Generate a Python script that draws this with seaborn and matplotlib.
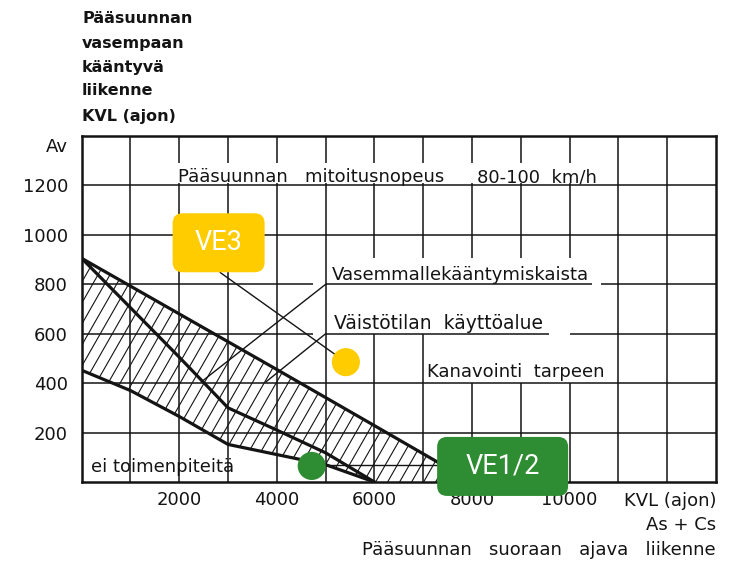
import matplotlib

matplotlib.use("Agg")

import matplotlib.pyplot as plt
import numpy as np
import pandas as pd
import seaborn as sns
from matplotlib.collections import LineCollection
from matplotlib.patches import FancyBboxPatch, Polygon
from matplotlib.transforms import IdentityTransform

# Kanavointitarve -käyrästö: x = pääsuunnan suoraan ajava liikenne (KVL),
# y = pääsuunnan vasempaan kääntyvä liikenne (KVL). Arvot luettu kuvasta.
upper_x = [0, 4000, 6000, 8000]
upper_y = [905, 455, 228, 0]
middle_x = [0, 1000, 2000, 3000, 4000, 5000, 6000]
middle_y = [905, 705, 505, 300, 210, 118, 0]
lower_x = [0, 1000, 2000, 3000, 5000, 6000]
lower_y = [452, 370, 265, 152, 70, 0]
cutoff_x = [4970, 7330]
cutoff_y = [70, 70]

# selitetekstien ohjausviivat (alku, loppu)
leader_lines = [((5000, 800), (2450, 405)), ((5000, 600), (3775, 405))]

x_ticks = [2000, 4000, 6000, 8000, 10000]
y_ticks = [200, 400, 600, 800, 1000, 1200]

# vaihtoehdot: pisteet ja niiden nimilaput
alt_labels = ["VE3", "VE1/2"]
alt_x = [5414, 4715]
alt_y = [485, 65]
alt_colors = ["#FFCC00", "#2E8C32"]
box_x = [2806, 8627]
box_y = [968, 63]

# ruudukon viivat katkoineen (kuten alkuperäisessä)
grid_h = [(200, 0, 13000), (400, 0, 13000), (1000, 0, 13000), (1200, 0, 13000),
          (800, 0, 4750), (800, 5000, 10450), (800, 10650, 13000),
          (600, 0, 4750), (600, 5000, 9580), (600, 10010, 13000)]
grid_v = [(1000, 0, 1400), (11000, 0, 1400), (12000, 0, 1400)]
for gx in [2000, 3000, 4000, 5000]:
    grid_v += [(gx, 0, 1208), (gx, 1292, 1400)]
for gx in [6000, 7000]:
    grid_v += [(gx, 0, 600), (gx, 905, 1208), (gx, 1292, 1400)]
for gx in [8000, 9000, 10000]:
    grid_v += [(gx, 0, 400), (gx, 905, 1208), (gx, 1292, 1400)]

sns.set_style("white")
plt.rcParams["font.family"] = ["DejaVu Sans"]
ink = "#141414"

W, H = 733, 563
fig = plt.figure(figsize=(W / 100, H / 100), dpi=100)
ax = fig.add_axes([81.7 / W, 1 - 482 / H, (716 - 81.7) / W, (482 - 136) / H])
ax.set_xlim(0, 13000)
ax.set_ylim(0, 1400)

for gy, x0, x1 in grid_h:
    ax.plot([x0, x1], [gy, gy], color=ink, lw=1.1, zorder=1, solid_capstyle="butt")
for gx, y0, y1 in grid_v:
    ax.plot([gx, gx], [y0, y1], color=ink, lw=1.1, zorder=1, solid_capstyle="butt")

# vinoviivoitettu alue ylä- ja alakäyrän välissä
band = Polygon(list(zip(upper_x, upper_y)) + list(zip(lower_x[::-1], lower_y[::-1])),
               closed=True, fc="none", ec="none")
ax.add_patch(band)
p0 = ax.transData.transform((0, 0))
p1 = ax.transData.transform((1000, 200))
sx = (p1[0] - p0[0]) / 1000
sy = (p1[1] - p0[1]) / 200
rise = 1.75
run = 1400 * sy / (rise * sx)
starts = np.arange(-run - 500, 8500, 12 / sx)
hatch = LineCollection([[(s, 0), (s + run, 1400)] for s in starts],
                       colors=ink, linewidths=0.8, zorder=2)
ax.add_collection(hatch)
hatch.set_clip_path(band)

curves = pd.concat([
    pd.DataFrame({"x": upper_x, "y": upper_y, "curve": "upper"}),
    pd.DataFrame({"x": middle_x, "y": middle_y, "curve": "middle"}),
    pd.DataFrame({"x": lower_x, "y": lower_y, "curve": "lower"}),
])
sns.lineplot(data=curves, x="x", y="y", units="curve", estimator=None, sort=False,
             color=ink, lw=2.3, ax=ax, zorder=3)
sns.lineplot(x=cutoff_x, y=cutoff_y, color=ink, lw=1.0, ax=ax, zorder=3)
for (xa, ya), (xb, yb) in leader_lines:
    ax.plot([xa, xb], [ya, yb], color=ink, lw=1.0, zorder=3)

# VE3-lapun viiva pisteeseen
ax.plot([box_x[0] + 30, alt_x[0]], [box_y[0] - 120, alt_y[0]], color=ink, lw=1.0, zorder=3)

markers = pd.DataFrame({"label": alt_labels, "x": alt_x, "y": alt_y})
sns.scatterplot(data=markers, x="x", y="y", hue="label", palette=dict(zip(alt_labels, alt_colors)),
                s=410, edgecolor="none", legend=False, ax=ax, zorder=5)

for lab, bx, by, col in zip(alt_labels, box_x, box_y, alt_colors):
    bw = 92 if lab == "VE3" else 131
    cx, cy = ax.transData.transform((bx, by))
    ax.add_patch(FancyBboxPatch((cx - bw / 2, cy - 29.5), bw, 59,
                                boxstyle="round,pad=0,rounding_size=10",
                                transform=IdentityTransform(), fc=col, ec="none",
                                zorder=6, clip_on=False))
    ax.text(bx, by, lab, ha="center", va="center", color="white", fontsize=19.5,
            family=["Roboto", "DejaVu Sans"], zorder=7, clip_on=False)

fs = 13
ax.text(1965, 1213, "Pääsuunnan   mitoitusnopeus", fontsize=fs, color=ink, zorder=4)
ax.text(8100, 1213, "80-100  km/h", fontsize=fs, color=ink, zorder=4)
ax.text(5128, 816, "Vasemmallekääntymiskaista", fontsize=fs, color=ink, zorder=4)
ax.text(5170, 621, "Väistötilan  käyttöalue", fontsize=13.5, color=ink, zorder=4)
ax.text(7073, 425, "Kanavointi  tarpeen", fontsize=fs, color=ink, zorder=4)
ax.text(196, 42, "ei toimenpiteitä", fontsize=fs, color=ink, zorder=4)

ax.set_xticks(x_ticks)
ax.set_xticklabels([str(v) for v in x_ticks], fontsize=fs, color=ink)
ax.set_yticks(y_ticks)
ax.set_yticklabels([str(v) for v in y_ticks], fontsize=fs, color=ink)
ax.tick_params(axis="x", length=0, pad=6.5)
ax.tick_params(axis="y", length=0, pad=9.9)
ax.set_xlabel("")
ax.set_ylabel("")
for sp in ax.spines.values():
    sp.set_color(ink)
    sp.set_linewidth(1.8)
    sp.set_visible(True)

title_lines = ["Pääsuunnan", "vasempaan", "kääntyvä", "liikenne", "KVL (ajon)"]
for line, base in zip(title_lines, [23.3, 48.3, 72.0, 95.5, 121.0]):
    fig.text(82 / W, 1 - base / H, line, fontsize=11.5, fontweight="bold", color=ink,
             ha="left", va="baseline")
fig.text(68 / W, 1 - 152 / H, "Av", fontsize=fs, color=ink, ha="right", va="baseline")
fig.text(716 / W, 1 - 506.5 / H, "KVL (ajon)", fontsize=fs, color=ink, ha="right", va="baseline")
fig.text(716 / W, 1 - 529.5 / H, "As + Cs", fontsize=fs, color=ink, ha="right", va="baseline")
fig.text(716 / W, 1 - 555 / H, "Pääsuunnan   suoraan   ajava   liikenne", fontsize=fs, color=ink,
         ha="right", va="baseline")

fig.savefig("out.png", dpi=100, facecolor="white")
plt.close(fig)
